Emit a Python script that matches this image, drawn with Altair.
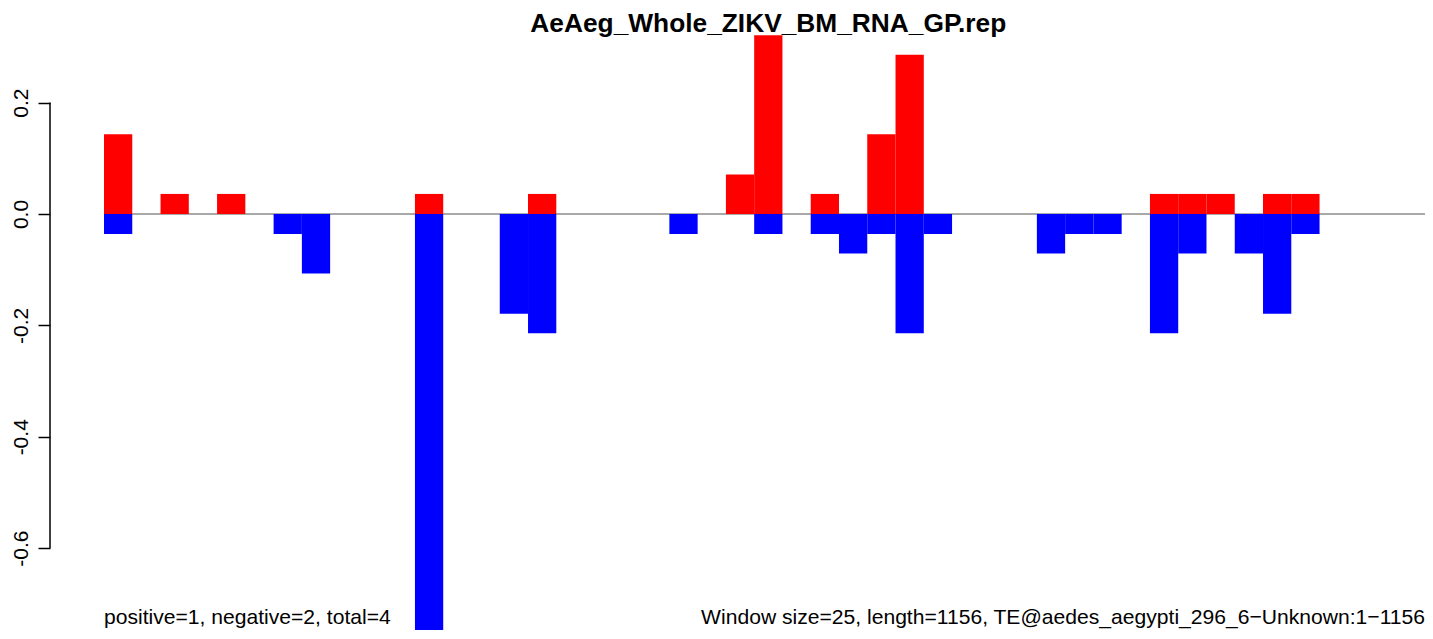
import altair as alt
import pandas as pd

# ---- data (window bins, 25 bp each) ----
pos_bins = [0, 2, 4, 11, 15, 22, 23, 25, 27, 28, 37, 38, 39, 41, 42]
pos_vals = [0.143, 0.036, 0.036, 0.036, 0.036, 0.071, 0.321, 0.036, 0.143, 0.286,
            0.036, 0.036, 0.036, 0.036, 0.036]
neg_bins = [0, 6, 7, 11, 14, 15, 20, 23, 25, 26, 27, 28, 29, 33, 34, 35, 37, 38, 40, 41, 42]
neg_vals = [-0.036, -0.036, -0.107, -0.75, -0.179, -0.214, -0.036, -0.036, -0.036, -0.071,
            -0.036, -0.214, -0.036, -0.071, -0.036, -0.036, -0.214, -0.071, -0.071, -0.179, -0.036]
n_bins = 47
y_ticks = [0.2, 0.0, -0.2, -0.4, -0.6]

title_text = "AeAeg_Whole_ZIKV_BM_RNA_GP.rep"
left_note = "positive=1, negative=2, total=4"
right_note = "Window size=25, length=1156, TE@aedes_aegypti_296_6\u2212Unknown:1\u22121156"

FONT = "Liberation Sans"

rows = []
for b, v in zip(pos_bins, pos_vals):
    rows.append({"start": b, "end": b + 1, "val": v, "base": 0.0, "sign": "pos"})
for b, v in zip(neg_bins, neg_vals):
    rows.append({"start": b, "end": b + 1, "val": v, "base": 0.0, "sign": "neg"})
bars_df = pd.DataFrame(rows)

W, H = 1375, 622
X_LO, X_HI = -1.91, 46.73
xscale = alt.Scale(domain=[X_LO, X_HI], nice=False, zero=False)
yscale = alt.Scale(domain=[-0.7469, 0.3698], nice=False, zero=False)

y_axis = alt.Axis(values=y_ticks, domain=False, grid=False, ticks=True,
                  tickSize=12, tickColor="black", tickWidth=1.5,
                  labelAngle=270, labelAlign="center", labelBaseline="alphabetic",
                  labelPadding=11, labelFont=FONT, labelFontSize=21,
                  labelColor="black", labelOverlap=False, labelFlush=False,
                  labelExpr="replace(format(datum.value, '.1f'), '\u2212', '-')",
                  title=None)

zero_df = pd.DataFrame({"x0": [0], "x1": [X_HI], "y0": [0.0]})
zero_line = alt.Chart(zero_df).mark_rule(color="#555555", strokeWidth=1.2).encode(
    x=alt.X("x0:Q", scale=xscale, axis=None),
    x2="x1:Q",
    y=alt.Y("y0:Q", scale=yscale, axis=y_axis),
)

bars = alt.Chart(bars_df).mark_rect().encode(
    x=alt.X("start:Q", scale=xscale, axis=None),
    x2="end:Q",
    y=alt.Y("val:Q", scale=yscale, axis=y_axis),
    y2="base:Q",
    color=alt.Color("sign:N", scale=alt.Scale(domain=["pos", "neg"], range=["#FF0000", "#0000FF"]),
                    legend=None),
)

axis_df = pd.DataFrame({"ya": [y_ticks[0]], "yb": [y_ticks[-1]]})
axis_line = alt.Chart(axis_df).mark_rule(color="black", strokeWidth=1.5).encode(
    x=alt.value(0),
    y=alt.Y("ya:Q", scale=yscale, axis=y_axis),
    y2="yb:Q",
)

title_df = pd.DataFrame({"t": [title_text], "xc": [n_bins / 2]})
title = alt.Chart(title_df).mark_text(
    font=FONT, fontSize=26.3, fontWeight="bold", align="center", baseline="alphabetic", color="black"
).encode(x=alt.X("xc:Q", scale=xscale, axis=None), y=alt.value(24), text="t:N")

left_df = pd.DataFrame({"t": [left_note], "xl": [0]})
left_txt = alt.Chart(left_df).mark_text(
    font=FONT, fontSize=21.1, align="left", baseline="alphabetic", color="black"
).encode(x=alt.X("xl:Q", scale=xscale, axis=None), y=alt.value(616), text="t:N")

right_df = pd.DataFrame({"t": [right_note], "xr": [X_HI]})
right_txt = alt.Chart(right_df).mark_text(
    font=FONT, fontSize=21.1, align="right", baseline="alphabetic", color="black"
).encode(x=alt.X("xr:Q", scale=xscale, axis=None), y=alt.value(616), text="t:N")

chart = alt.layer(zero_line, bars, axis_line, title, left_txt, right_txt).properties(
    width=W, height=H,
    padding={"left": 42, "top": 0, "right": 0, "bottom": 0},
    autosize=alt.AutoSizeParams(type="none"),
    background="white",
).configure_view(stroke=None)

chart.save("out.html", embed_options={"renderer": "svg", "actions": False})
